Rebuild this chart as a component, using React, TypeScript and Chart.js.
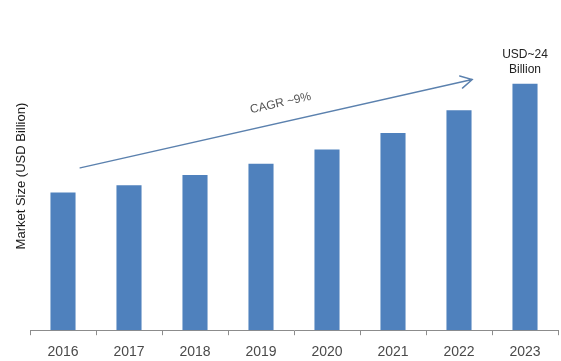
import React, { useEffect, useRef } from "react";
import { Chart, registerables } from "chart.js";

Chart.register(...registerables);

// Market size by year, USD billion
const years = ["2016", "2017", "2018", "2019", "2020", "2021", "2022", "2023"];
const marketSize = [13.4, 14.1, 15.1, 16.2, 17.6, 19.2, 21.4, 24];

// Callout above the final bar
const endLabelLines = ["USD~24", "Billion"];

// Growth arrow, in data coordinates (category index, value)
const arrowStart = [0.26, 15.8];
const arrowEnd = [6.2, 24.4];
const arrowLabel = "CAGR ~9%";

const BAR_COLOR = "#4F81BD";
const ARROW_COLOR = "#5B81AE";
const FONT = "'Liberation Sans', Arial, sans-serif";

const annotationPlugin = {
  id: "growthAnnotations",
  afterDatasetsDraw(chart: any) {
    const { ctx, scales } = chart;
    const x = scales.x;
    const y = scales.y;

    // growth arrow
    const x1 = x.getPixelForValue(arrowStart[0]);
    const y1 = y.getPixelForValue(arrowStart[1]);
    const x2 = x.getPixelForValue(arrowEnd[0]);
    const y2 = y.getPixelForValue(arrowEnd[1]);
    const ang = Math.atan2(y2 - y1, x2 - x1);
    ctx.save();
    ctx.strokeStyle = ARROW_COLOR;
    ctx.lineWidth = 1.4;
    ctx.lineCap = "round";
    ctx.beginPath();
    ctx.moveTo(x1, y1);
    ctx.lineTo(x2, y2);
    const head = 13;
    const spread = 0.5;
    ctx.moveTo(x2 - head * Math.cos(ang - spread), y2 - head * Math.sin(ang - spread));
    ctx.lineTo(x2, y2);
    ctx.lineTo(x2 - head * Math.cos(ang + spread), y2 - head * Math.sin(ang + spread));
    ctx.stroke();

    // CAGR label, rotated along the arrow and sitting above it
    const t = 0.522;
    const mx = x1 + (x2 - x1) * t;
    const my = y1 + (y2 - y1) * t;
    const lift = 19;
    ctx.translate(mx + Math.sin(ang) * lift, my - Math.cos(ang) * lift);
    ctx.rotate(ang);
    ctx.fillStyle = "#555555";
    ctx.font = `12px ${FONT}`;
    ctx.textAlign = "center";
    ctx.textBaseline = "middle";
    ctx.fillText(arrowLabel, 0, 0);
    ctx.restore();

    // value callout above the last bar
    const meta = chart.getDatasetMeta(0);
    const last = meta.data[meta.data.length - 1];
    ctx.save();
    ctx.fillStyle = "#222222";
    ctx.font = `12px ${FONT}`;
    ctx.textAlign = "center";
    ctx.textBaseline = "middle";
    const lineGap = 15;
    endLabelLines.forEach((txt, i) => {
      ctx.fillText(txt, last.x, last.y - 29 + i * lineGap);
    });
    ctx.restore();
  },
};

export default function App() {
  const canvasRef = useRef<HTMLCanvasElement | null>(null);

  useEffect(() => {
    const canvas = canvasRef.current;
    if (!canvas) return;
    const chart = new Chart(canvas, {
      type: "bar",
      data: {
        labels: years,
        datasets: [
          {
            data: marketSize,
            backgroundColor: BAR_COLOR,
            borderWidth: 0,
            barPercentage: 0.38,
            categoryPercentage: 1,
          },
        ],
      },
      options: {
        animation: false,
        responsive: false,
        maintainAspectRatio: false,
        layout: { padding: { top: 22, left: 9.4, right: 3, bottom: -9 } },
        plugins: {
          legend: { display: false },
          tooltip: { enabled: false },
        },
        scales: {
          x: {
            grid: {
              display: true,
              drawOnChartArea: false,
              drawTicks: true,
              tickLength: 5,
              color: "#8C8C8C",
              offset: true,
            },
            border: { display: true, color: "#8C8C8C", width: 1 },
            ticks: {
              color: "#4A4A4A",
              padding: 9,
              font: { family: FONT, size: 14 },
            },
          },
          y: {
            min: 0,
            max: 30,
            grid: { display: false, drawTicks: false, tickLength: 0 },
            border: { display: false },
            ticks: { display: false },
            title: {
              display: true,
              text: "Market Size (USD Billion)",
              color: "#1A1A1A",
              padding: { top: 4, bottom: 1 },
              font: { family: FONT, size: 13 },
            },
          },
        },
      },
      plugins: [annotationPlugin],
    });
    return () => chart.destroy();
  }, []);

  return (
    <div style={{ position: "fixed", left: 0, top: 0, width: 561, height: 361, background: "#ffffff" }}>
      <canvas ref={canvasRef} width={561} height={361} style={{ display: "block" }} />
    </div>
  );
}
